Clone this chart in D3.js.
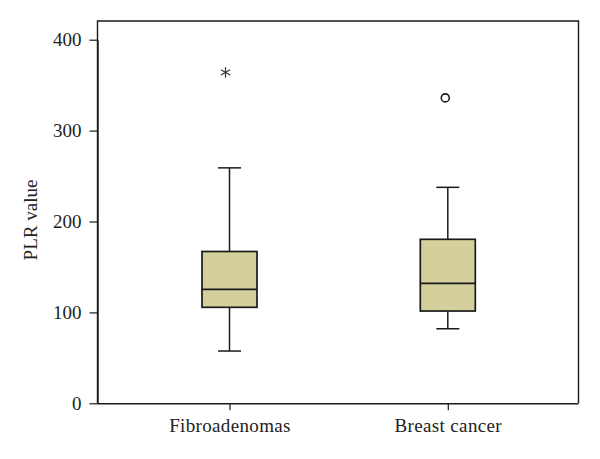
<!DOCTYPE html>
<html>
<head>
<meta charset="utf-8">
<script src="https://cdn.jsdelivr.net/npm/d3@7/dist/d3.min.js"></script>
<style>
body{margin:0;background:#fff;}
svg{display:block;}
text{font-family:"Liberation Serif","Times New Roman",serif;fill:#222;}
</style>
</head>
<body>
<svg id="chart" width="600" height="459"></svg>
<script>
const categories = ["Fibroadenomas", "Breast cancer"];
const whiskerLow  = [57.5, 82];
const q1          = [105.6, 101.5];
const median      = [125.4, 132];
const q3          = [167, 180.4];
const whiskerHigh = [259, 237.6];
const outliers    = [[364], [336]];
const outlierType = ["extreme", "outlier"];
const yTicks = [0, 100, 200, 300, 400];

const svg = d3.select("#chart");
const L = 97.5, R = 578.5, T = 21, B = 403.3;

const y = d3.scaleLinear().domain([0, 400]).range([B, 39.7]);
const x = d3.scalePoint().domain(categories).range([229.5, 447.8]);
const boxW = 55;
const capW = 23;
const fill = "#D5CF9B";
const stroke = "#1a1a1a";

// frame (top and right)
svg.append("path")
  .attr("d", `M${L},${B} L${L},${T} L${R},${T} L${R},${B}`)
  .attr("fill", "none").attr("stroke", stroke).attr("stroke-width", 1.4);

// y axis
const yAxis = d3.axisLeft(y).tickValues(yTicks).tickSize(8).tickPadding(8).tickSizeOuter(0);
const gy = svg.append("g").attr("transform", `translate(${L},0)`).call(yAxis);
gy.select(".domain").attr("stroke", stroke).attr("stroke-width", 1.4);
gy.selectAll(".tick line").attr("stroke", stroke).attr("stroke-width", 1.2);
gy.selectAll(".tick text").style("font-size", "19px").style("font-family", "Liberation Serif, serif").attr("fill", "#222");

// x axis
const xAxis = d3.axisBottom(x).tickSize(7).tickPadding(8).tickSizeOuter(0);
const gx = svg.append("g").attr("transform", `translate(0,${B})`).call(xAxis);
gx.select(".domain").attr("d", `M${L},0.5 H${R}`).attr("stroke", stroke).attr("stroke-width", 1.4);
gx.selectAll(".tick line").attr("stroke", stroke).attr("stroke-width", 1.2);
gx.selectAll(".tick text").style("font-size", "19px").style("letter-spacing", "0.35px").style("font-family", "Liberation Serif, serif").attr("fill", "#222");

// y label
svg.append("text")
  .attr("transform", `translate(37,220) rotate(-90)`)
  .attr("text-anchor", "middle")
  .style("font-size", "19px")
  .text("PLR value");

// boxes
categories.forEach((c, i) => {
  const cx = x(c);
  const g = svg.append("g");
  g.append("line").attr("x1", cx).attr("x2", cx).attr("y1", y(whiskerHigh[i])).attr("y2", y(q3[i]))
    .attr("stroke", stroke).attr("stroke-width", 1.5);
  g.append("line").attr("x1", cx).attr("x2", cx).attr("y1", y(q1[i])).attr("y2", y(whiskerLow[i]))
    .attr("stroke", stroke).attr("stroke-width", 1.5);
  [whiskerHigh[i], whiskerLow[i]].forEach(v => {
    g.append("line").attr("x1", cx - capW/2).attr("x2", cx + capW/2).attr("y1", y(v)).attr("y2", y(v))
      .attr("stroke", stroke).attr("stroke-width", 1.5);
  });
  g.append("rect").attr("x", cx - boxW/2).attr("width", boxW)
    .attr("y", y(q3[i])).attr("height", y(q1[i]) - y(q3[i]))
    .attr("fill", fill).attr("stroke", stroke).attr("stroke-width", 1.7);
  g.append("line").attr("x1", cx - boxW/2).attr("x2", cx + boxW/2).attr("y1", y(median[i])).attr("y2", y(median[i]))
    .attr("stroke", stroke).attr("stroke-width", 1.7);

  outliers[i].forEach(v => {
    const ox = cx - 4, oy = y(v);
    if (outlierType[i] === "extreme") {
      const r = 5.3;
      [90, 30, 150].forEach(a => {
        const rad = a * Math.PI / 180;
        g.append("line")
          .attr("x1", ox - r*Math.cos(rad)).attr("y1", oy - r*Math.sin(rad))
          .attr("x2", ox + r*Math.cos(rad)).attr("y2", oy + r*Math.sin(rad))
          .attr("stroke", "#333").attr("stroke-width", 1.2);
      });
    } else {
      g.append("circle").attr("cx", cx - 2.5).attr("cy", oy).attr("r", 4)
        .attr("fill", "none").attr("stroke", stroke).attr("stroke-width", 1.6);
    }
  });
});
</script>
</body>
</html>
